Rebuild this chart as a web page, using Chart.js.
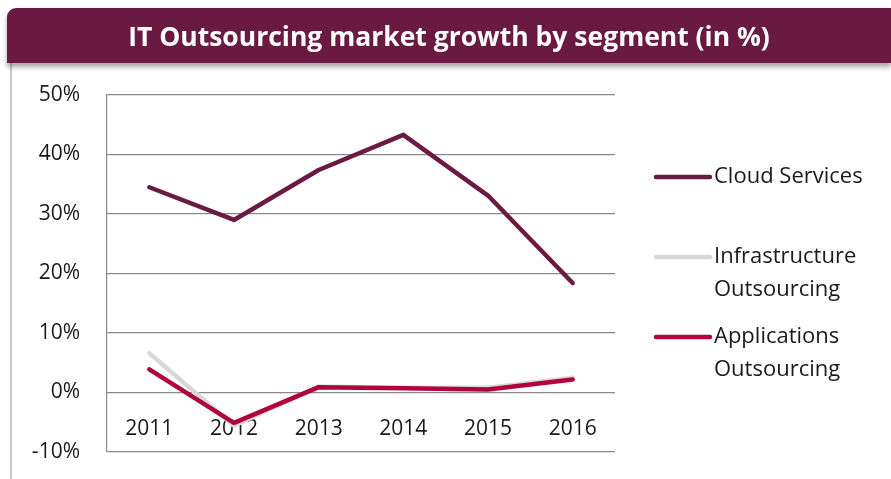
<!DOCTYPE html>
<html>
<head>
<meta charset="utf-8">
<title>IT Outsourcing market growth by segment</title>
<script src="https://cdn.jsdelivr.net/npm/chart.js@4.4.1/dist/chart.umd.min.js"></script>
<style>
  html, body { margin: 0; padding: 0; background: #fff; }
  body { width: 891px; height: 479px; position: relative; overflow: hidden; }
  .banner {
    position: absolute; left: 7px; top: 8px; width: 884px; height: 55px;
    background: #6a1a41; border-top-left-radius: 9px;
    box-shadow: 0 4px 5px rgba(0, 0, 0, 0.35);
    color: #fff; font: bold 26.5px "Open Sans", sans-serif;
    display: flex; align-items: center; justify-content: center;
    z-index: 2;
  }
  .edge { position: absolute; left: 10px; top: 63px; width: 2px; height: 420px; background: #c9c9c9; }
  #chart { position: absolute; left: 0; top: 0; z-index: 1; }
</style>
</head>
<body>
<div class="banner">IT Outsourcing market growth by segment (in %)</div>
<div class="edge"></div>
<canvas id="chart" width="891" height="479"></canvas>
<script>
// Valeurs (croissance en %)
const years = ['2011', '2012', '2013', '2014', '2015', '2016'];
const cloudServices = [34.5, 29.0, 37.4, 43.3, 33.1, 18.4];
const infrastructureOutsourcing = [6.6, -5.6, 1.0, 0.8, 0.8, 2.5];
const applicationsOutsourcing = [3.9, -5.1, 0.9, 0.7, 0.5, 2.2];
const seriesNames = ['Cloud Services', 'Infrastructure Outsourcing', 'Applications Outsourcing'];
const seriesColors = ['#6b1a43', '#d9d9d9', '#b0053c'];
const yTicks = [-10, 0, 10, 20, 30, 40, 50];

const FONT = '"Open Sans", sans-serif';
const TEXT = '#1a1a1a';
const GRID = '#8a8a8a';

// Légende dessinée à droite, avec retour à la ligne comme dans l'original
const sideLegend = {
  id: 'sideLegend',
  afterDraw(chart) {
    const ctx = chart.ctx;
    const rows = [177, 257, 337];
    ctx.save();
    ctx.font = '22px ' + FONT;
    ctx.textBaseline = 'middle';
    chart.data.datasets.forEach((ds, i) => {
      const y = rows[i];
      ctx.strokeStyle = ds.borderColor;
      ctx.lineWidth = 4.5;
      ctx.lineCap = 'round';
      ctx.beginPath();
      ctx.moveTo(656, y);
      ctx.lineTo(710, y);
      ctx.stroke();

      // découpage simple en lignes de 170px max
      const words = ds.label.split(' ');
      const lines = [];
      let cur = '';
      words.forEach(w => {
        const test = cur ? cur + ' ' + w : w;
        if (ctx.measureText(test).width > 170 && cur) {
          lines.push(cur);
          cur = w;
        } else {
          cur = test;
        }
      });
      lines.push(cur);
      ctx.fillStyle = TEXT;
      ctx.textAlign = 'left';
      lines.forEach((t, k) => ctx.fillText(t, 714, y + k * 33));
    });
    ctx.restore();
  }
};

const ctx = document.getElementById('chart').getContext('2d');
new Chart(ctx, {
  type: 'line',
  data: {
    labels: years,
    datasets: [
      { label: seriesNames[0], data: cloudServices, borderColor: seriesColors[0], order: 0 },
      { label: seriesNames[1], data: infrastructureOutsourcing, borderColor: seriesColors[1], order: 2 },
      { label: seriesNames[2], data: applicationsOutsourcing, borderColor: seriesColors[2], order: 1 }
    ].map(ds => ({
      ...ds,
      borderWidth: 4.5,
      pointRadius: 0,
      tension: 0,
      fill: false,
      borderCapStyle: 'round',
      borderJoinStyle: 'round'
    }))
  },
  options: {
    responsive: false,
    animation: false,
    layout: { padding: { top: 95, right: 276, bottom: 27, left: 0 } },
    plugins: {
      legend: { display: false },
      title: { display: false },
      tooltip: { enabled: false }
    },
    scales: {
      y: {
        min: -10,
        max: 50,
        afterFit: s => { s.width = 107; },
        afterBuildTicks: s => { s.ticks = yTicks.map(v => ({ value: v })); },
        ticks: {
          callback: v => v + '%',
          font: { family: FONT, size: 21 },
          color: TEXT,
          padding: 0
        },
        // marques de graduation invisibles : elles décalent les étiquettes
        grid: { color: GRID, lineWidth: 1.2, drawTicks: true, tickLength: 27, tickColor: 'rgba(0,0,0,0)' },
        border: { display: true, color: GRID, width: 1.2 }
      },
      x: {
        position: { y: 0 },
        offset: true,
        afterFit: s => { s.height = 0; },
        ticks: {
          font: { family: FONT, size: 21 },
          color: TEXT,
          padding: 24,
          maxRotation: 0
        },
        grid: { display: false, drawTicks: false },
        border: { display: false }
      }
    }
  },
  plugins: [sideLegend]
});
</script>
</body>
</html>
